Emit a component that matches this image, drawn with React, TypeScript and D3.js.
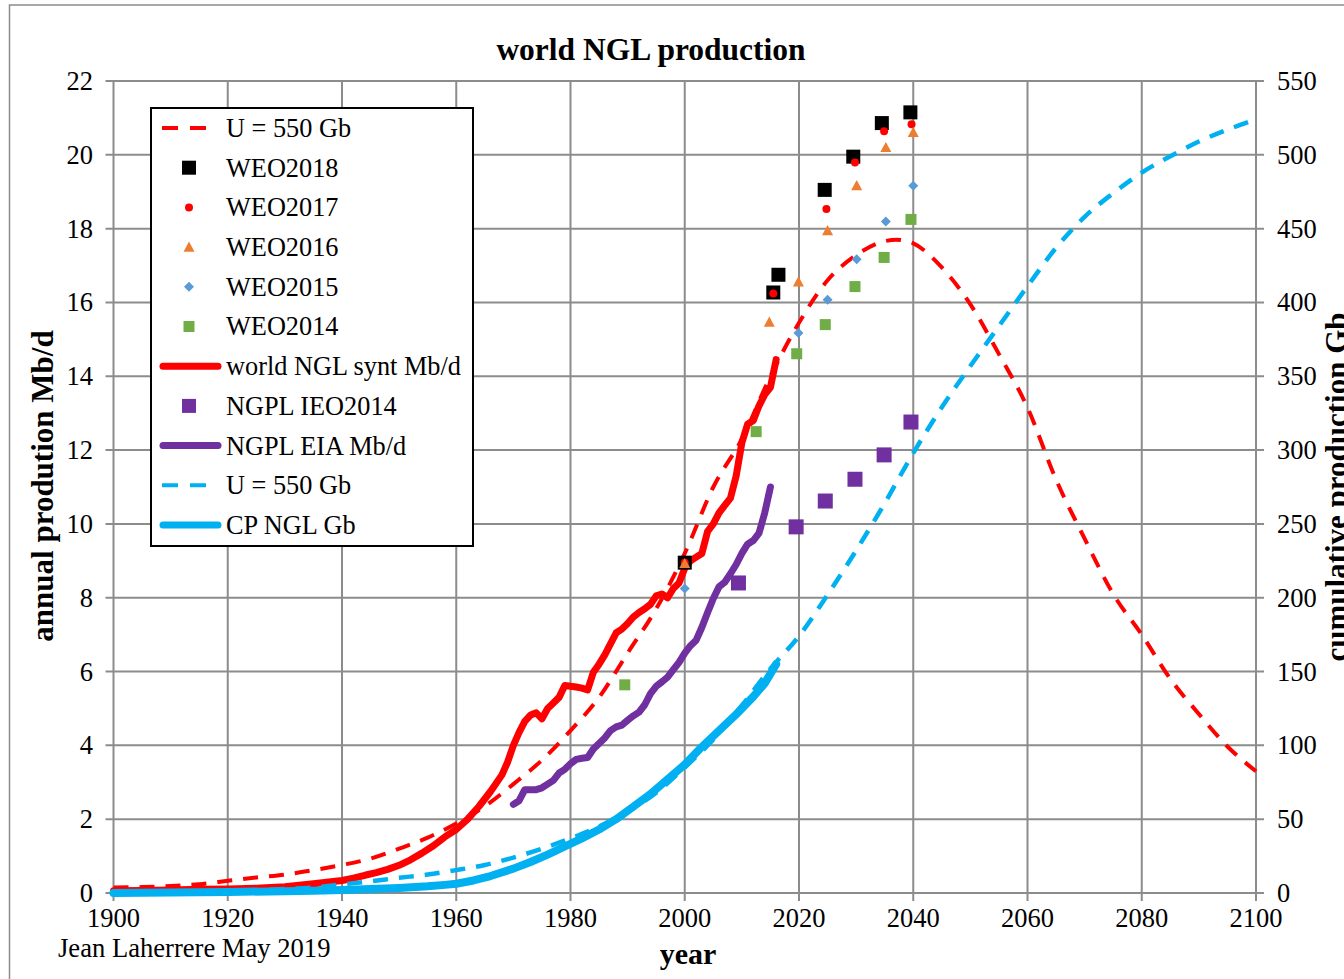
import React from "react";
import * as d3 from "d3";

// ---------- data ----------
const synthYears = [1900,1905,1910,1915,1920,1925,1930,1935,1940,1942,1944,1946,1948,1950,1952,1954,1956,1958,1960,1962,1964,1966,1968,1969,1970,1971,1972,1973,1974,1975,1976,1977,1978,1979,1980,1981,1982,1983,1984,1985,1986,1987,1988,1989,1990,1991,1992,1993,1994,1995,1996,1997,1998,1999,2000,2001,2002,2003,2004,2005,2006,2007,2008,2009,2010,2011,2012,2013,2014,2015,2016];
const synthMbd = [0.06,0.07,0.08,0.1,0.11,0.13,0.17,0.25,0.34,0.4,0.48,0.55,0.64,0.75,0.9,1.08,1.28,1.52,1.72,2.0,2.35,2.75,3.2,3.55,4.0,4.35,4.65,4.82,4.88,4.72,5.0,5.15,5.3,5.62,5.6,5.58,5.55,5.5,5.98,6.2,6.45,6.75,7.05,7.15,7.3,7.48,7.6,7.7,7.82,8.05,8.1,8.0,8.25,8.4,8.8,9.0,9.1,9.2,9.8,10.0,10.3,10.5,10.7,11.3,12.2,12.7,12.8,13.2,13.5,13.7,14.45];

const hubbertYears = [1900,1905,1910,1915,1920,1925,1930,1935,1940,1945,1950,1955,1960,1965,1970,1975,1980,1985,1990,1995,2000,2005,2010,2015,2020,2025,2030,2035,2037,2040,2045,2050,2055,2060,2065,2070,2075,2080,2085,2090,2095,2100];
const hubbertMbd = [0.15,0.16,0.19,0.24,0.33,0.42,0.5,0.62,0.76,0.93,1.2,1.5,1.88,2.35,2.95,3.6,4.4,5.3,6.5,7.7,9.2,11.0,12.3,14.0,15.45,16.6,17.28,17.66,17.7,17.6,16.95,15.95,14.6,13.15,11.2,9.6,8.1,7.0,5.8,4.85,3.97,3.3];

const eiaYears = [1970,1971,1972,1973,1974,1975,1976,1977,1978,1979,1980,1981,1982,1983,1984,1985,1986,1987,1988,1989,1990,1991,1992,1993,1994,1995,1996,1997,1998,1999,2000,2001,2002,2003,2004,2005,2006,2007,2008,2009,2010,2011,2012,2013,2014,2015];
const eiaMbd = [2.4,2.5,2.8,2.8,2.8,2.85,2.95,3.05,3.25,3.35,3.5,3.62,3.65,3.67,3.9,4.05,4.2,4.4,4.5,4.55,4.68,4.8,4.9,5.1,5.4,5.6,5.72,5.85,6.05,6.25,6.5,6.7,6.85,7.2,7.6,7.98,8.3,8.42,8.65,8.9,9.2,9.45,9.55,9.75,10.3,11.0];

const cpYears = [1900,1910,1920,1930,1935,1940,1945,1950,1955,1958,1960,1963,1966,1970,1973,1976,1979,1982,1985,1988,1991,1994,1997,2000,2003,2006,2009,2012,2014,2016];
const cpGb = [0,0.3,0.7,1.2,1.6,2.1,2.7,3.4,4.5,5.5,6.3,8.5,11.5,16.5,21,26,31.5,37,43,50,58.5,67,77,87,99,110,121,133,142,155];

const cumHubYears = [1900,1910,1920,1930,1935,1940,1945,1950,1955,1960,1965,1970,1975,1980,1985,1990,1995,2000,2005,2010,2015,2020,2025,2030,2035,2040,2045,2050,2055,2060,2065,2070,2075,2080,2085,2090,2095,2100];
const cumHubGb = [0.4,0.8,1.5,2.7,3.8,5.8,8,10.3,12.5,15.5,19,24,30,37,45,55,68,85,104,127,152,174,202,232,264,298,329,357,384,411,437,458,474,488,499,509,517,524];

const weo2018Years = [2000,2015.5,2016.4,2024.5,2029.5,2034.5,2039.5];
const weo2018Mbd = [8.95,16.27,16.75,19.05,19.95,20.86,21.15];
const weo2017Years = [2000,2015.5,2024.8,2029.8,2034.9,2039.7];
const weo2017Mbd = [8.95,16.24,18.53,19.79,20.64,20.83];
const weo2016Years = [2000,2014.8,2019.9,2025,2030.1,2035.2,2040];
const weo2016Mbd = [8.93,15.47,16.56,17.95,19.17,20.2,20.61];
const weo2015Years = [2000,2019.9,2025,2030.1,2035.2,2040];
const weo2015Mbd = [8.25,15.17,16.07,17.17,18.19,19.16];
const weo2014Years = [1989.5,2012.5,2019.6,2024.6,2029.8,2034.9,2039.6];
const weo2014Mbd = [5.64,12.5,14.61,15.4,16.43,17.22,18.25];
const ieo2014Years = [2009.4,2019.5,2024.6,2029.8,2034.9,2039.6];
const ieo2014Mbd = [8.4,9.92,10.62,11.21,11.87,12.76];

const xTicks = d3.range(1900, 2101, 20);
const yLeftTicks = d3.range(0, 23, 2);
const yRightTicks = d3.range(0, 551, 50);

const legendLabels = [
  "U = 550 Gb", "WEO2018", "WEO2017", "WEO2016", "WEO2015", "WEO2014",
  "world NGL synt Mb/d", "NGPL IEO2014", "NGPL EIA Mb/d", "U = 550 Gb", "CP NGL Gb",
];

// ---------- styles ----------
const RED = "#FF0000";
const PURPLE = "#7030A0";
const BLUE = "#00B0F0";
const ORANGE = "#ED7D31";
const LBLUE = "#5B9BD5";
const GREEN = "#70AD47";
const GRID = "#8C8C8C";
const FONT = "'Liberation Serif', 'Times New Roman', serif";

const W = 1344, H = 979;
const x = d3.scaleLinear().domain([1900, 2100]).range([113.5, 1256]);
const yL = d3.scaleLinear().domain([0, 22]).range([893, 81]);
const yR = d3.scaleLinear().domain([0, 550]).range([893, 81]);

const zip = (a: number[], b: number[]) => a.map((v, i) => [v, b[i]] as [number, number]);

const lineL = d3.line<[number, number]>().x(d => x(d[0])).y(d => yL(d[1]));
const lineLSmooth = d3.line<[number, number]>().x(d => x(d[0])).y(d => yL(d[1])).curve(d3.curveMonotoneX);
const lineR = d3.line<[number, number]>().x(d => x(d[0])).y(d => yR(d[1]));
const lineRSmooth = d3.line<[number, number]>().x(d => x(d[0])).y(d => yR(d[1])).curve(d3.curveMonotoneX);

type Shape = "square" | "circle" | "triangle" | "diamond";
function Marker({ shape, cx, cy, size, fill }: { shape: Shape; cx: number; cy: number; size: number; fill: string }) {
  const h = size / 2;
  if (shape === "square") return <rect x={cx - h} y={cy - h} width={size} height={size} fill={fill} />;
  if (shape === "circle") return <circle cx={cx} cy={cy} r={h} fill={fill} />;
  if (shape === "triangle")
    return <path d={`M${cx},${cy - h}L${cx + h},${cy + h * 0.85}L${cx - h},${cy + h * 0.85}Z`} fill={fill} />;
  return <path d={`M${cx},${cy - h}L${cx + h},${cy}L${cx},${cy + h}L${cx - h},${cy}Z`} fill={fill} />;
}

const markerSeries: { years: number[]; vals: number[]; shape: Shape; size: number; fill: string }[] = [
  { years: weo2018Years, vals: weo2018Mbd, shape: "square", size: 14, fill: "#000" },
  { years: weo2017Years, vals: weo2017Mbd, shape: "circle", size: 8, fill: RED },
  { years: weo2016Years, vals: weo2016Mbd, shape: "triangle", size: 11, fill: ORANGE },
  { years: weo2015Years, vals: weo2015Mbd, shape: "diamond", size: 10, fill: LBLUE },
  { years: weo2014Years, vals: weo2014Mbd, shape: "square", size: 11, fill: GREEN },
  { years: ieo2014Years, vals: ieo2014Mbd, shape: "square", size: 15, fill: PURPLE },
];

export default function App() {
  const legendTop = 128;
  const legendStep = 39.7;
  const sx0 = 160, sx1 = 221, scx = 189;
  const legendItems = legendLabels.map((lab, i) => {
    const cy = legendTop + i * legendStep;
    let sym: any = null;
    if (i === 0 || i === 9)
      sym = <line x1={sx0 + 2} x2={sx1 - 10} y1={cy} y2={cy} stroke={i === 0 ? RED : BLUE} strokeWidth={4} strokeDasharray="16,12" />;
    else if (i >= 1 && i <= 5) {
      const m = markerSeries[i - 1];
      sym = <Marker shape={m.shape} cx={scx} cy={cy} size={m.size} fill={m.fill} />;
    } else if (i === 7) sym = <Marker shape="square" cx={scx} cy={cy} size={14} fill={PURPLE} />;
    else {
      const c = i === 6 ? RED : i === 8 ? PURPLE : BLUE;
      sym = <line x1={sx0 + 3} x2={sx1 - 3} y1={cy} y2={cy} stroke={c} strokeWidth={7} strokeLinecap="round" />;
    }
    return (
      <g key={i}>
        {sym}
        <text x={226} y={cy} dy="0.34em" fontSize={26.3} fontFamily={FONT} fill="#000">{lab}</text>
      </g>
    );
  });

  return (
    <div style={{ position: "absolute", left: 0, top: 0, width: W, height: H, background: "#fff" }}>
      <svg width={W} height={H} viewBox={`0 0 ${W} ${H}`} style={{ display: "block" }}>
        <rect x={0} y={0} width={W} height={H} fill="#fff" />
        <rect x={9.5} y={5} width={W + 20} height={H + 20} fill="none" stroke={GRID} strokeWidth={1.5} />

        {/* title */}
        <text x={651} y={60} textAnchor="middle" fontSize={31.5} fontWeight="bold" fontFamily={FONT}>world NGL production</text>

        {/* grid */}
        <g stroke={GRID} strokeWidth={2}>
          {xTicks.map(t => <line key={"gx" + t} x1={x(t)} x2={x(t)} y1={yL(22)} y2={yL(0) + 8} />)}
          {yLeftTicks.map(t => <line key={"gy" + t} x1={x(1900) - 8} x2={x(2100) + 8} y1={yL(t)} y2={yL(t)} />)}
        </g>

        {/* tick labels */}
        <g fontFamily={FONT} fontSize={26.5} fill="#000">
          {yLeftTicks.map(t => <text key={"yl" + t} x={93} y={yL(t)} dy="0.34em" textAnchor="end">{t}</text>)}
          {yRightTicks.map(t => <text key={"yr" + t} x={1277} y={yR(t)} dy="0.34em" textAnchor="start">{t}</text>)}
          {xTicks.map(t => <text key={"xl" + t} x={x(t)} y={927} textAnchor="middle">{t}</text>)}
        </g>

        {/* axis titles */}
        <text transform="translate(53,486) rotate(-90)" textAnchor="middle" fontSize={31} fontWeight="bold" fontFamily={FONT}>annual prodution Mb/d</text>
        <text transform="translate(1347,487) rotate(-90)" textAnchor="middle" fontSize={31} fontWeight="bold" fontFamily={FONT}>cumulative production Gb</text>
        <text x={688} y={964} textAnchor="middle" fontSize={30} fontWeight="bold" fontFamily={FONT}>year</text>
        <text x={58} y={957} fontSize={26.6} fontFamily={FONT}>Jean Laherrere May 2019</text>

        {/* lines */}
        <path d={lineLSmooth(zip(hubbertYears, hubbertMbd)) || ""} fill="none" stroke={RED} strokeWidth={4} strokeDasharray="15,11" />
        <path d={lineL(zip(synthYears, synthMbd)) || ""} fill="none" stroke={RED} strokeWidth={7} strokeLinejoin="round" strokeLinecap="round" />
        <path d={lineL(zip(eiaYears, eiaMbd)) || ""} fill="none" stroke={PURPLE} strokeWidth={7} strokeLinejoin="round" strokeLinecap="round" />
        <path d={lineRSmooth(zip(cumHubYears, cumHubGb)) || ""} fill="none" stroke={BLUE} strokeWidth={4.5} strokeDasharray="15,11" />
        <path d={lineR(zip(cpYears, cpGb)) || ""} fill="none" stroke={BLUE} strokeWidth={8} strokeLinejoin="round" strokeLinecap="round" />

        {/* markers */}
        {markerSeries.map((s, si) => (
          <g key={"ms" + si}>
            {s.years.map((yr, i) => (
              <Marker key={i} shape={s.shape} cx={x(yr)} cy={yL(s.vals[i])} size={s.size} fill={s.fill} />
            ))}
          </g>
        ))}

        {/* legend */}
        <rect x={151} y={108} width={322} height={438} fill="#fff" stroke="#000" strokeWidth={2} />
        {legendItems}
      </svg>
    </div>
  );
}
